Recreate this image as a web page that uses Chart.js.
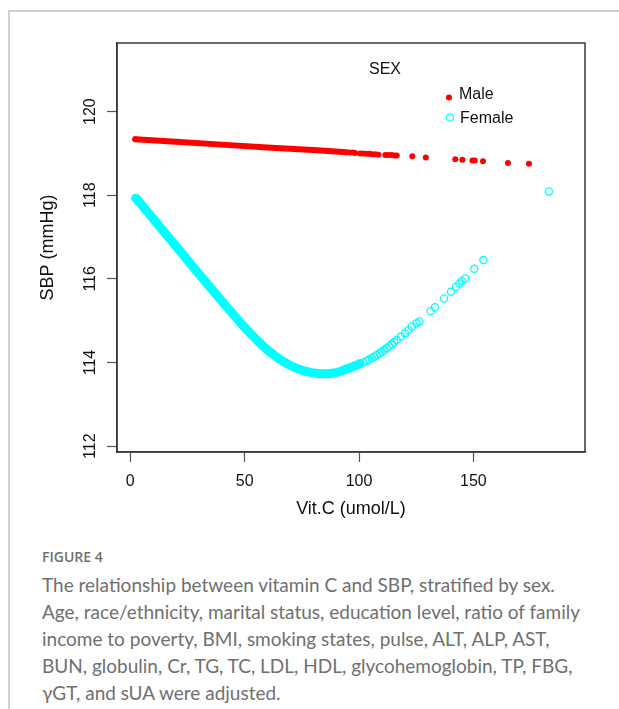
<!DOCTYPE html>
<html lang="en">
<head>
  <meta charset="UTF-8" />
  <title>Vitamin C and SBP by sex</title>
  <style>
    body, html {
      margin: 0;
      padding: 0;
      background: #fff;
      width: 619px;
      height: 709px;
      overflow: hidden;
    }
    .card {
      position: absolute;
      left: 8px;
      top: 10px;
      width: 640px;
      height: 720px;
      border-left: 2px solid #d2d2d2;
      border-top: 2px solid #d2d2d2;
    }
    #chart {
      position: absolute;
      left: 0;
      top: 0;
    }
    .fig {
      position: absolute;
      left: 42px;
      top: 547px;
      font-family: 'Open Sans', sans-serif;
      font-size: 14px;
      font-weight: 600;
      color: #707070;
    }
    .caption {
      position: absolute;
      left: 42px;
      top: 571px;
      font-family: 'Lato', sans-serif;
      font-size: 19px;
      line-height: 27px;
      color: #707070;
      white-space: nowrap;
    }
  </style>
</head>
<body>

<div class="card"></div>
<canvas id="chart" width="619" height="540"></canvas>

<div class="fig">FIGURE 4</div>
<div class="caption">
  The relationship between vitamin C and SBP, stratified by sex.<br />
  Age, race/ethnicity, marital status, education level, ratio of family<br />
  income to poverty, BMI, smoking states, pulse, ALT, ALP, AST,<br />
  BUN, globulin, Cr, TG, TC, LDL, HDL, glycohemoglobin, TP, FBG,<br />
  &gamma;GT, and sUA were adjusted.
</div>

<script src="https://cdn.jsdelivr.net/npm/chart.js"></script>
<script>
  // axis ticks
  const xTicks = [0, 50, 100, 150];
  const yTicks = [112, 114, 116, 118, 120];

  // Male: dense run (drawn as a band) then the separate points
  const maleBandX = [2.2, 20, 40, 60, 80, 94.6];
  const maleBandY = [119.34, 119.28, 119.21, 119.14, 119.08, 119.03];
  const maleX = [2.2, 96.1, 97.5, 98.3, 100.5, 101.8, 103.2, 104.5, 105.8, 107.2, 108.5,
                 111.5, 112.8, 114.3, 115.5, 116.5, 123.3, 129.2, 142.1, 145.2, 149.6,
                 150.6, 154.2, 165.1, 174.3];
  const maleY = [119.34, 119.02, 119.02, 119.01, 119.0, 119.0, 118.99, 118.99, 118.98, 118.98, 118.97,
                 118.96, 118.96, 118.96, 118.95, 118.95, 118.93, 118.9, 118.86, 118.85, 118.83,
                 118.83, 118.81, 118.77, 118.75];

  // Female: dense run (drawn as a band) then the separate circles
  const femaleBandX = [2.5, 10, 20, 30, 40, 50, 60, 70, 80, 85, 90, 100];
  const femaleBandY = [117.93, 117.44, 116.78, 116.12, 115.47, 114.84, 114.3, 113.93,
                       113.75, 113.73, 113.76, 113.96];
  const femaleX = [2.2, 100.5, 101.8, 103.4, 104.5, 105.5, 106.6, 107.8, 109, 110, 111, 112.1,
                   113.2, 114.3, 115.4, 116.5, 118.3, 120.1, 121.6, 123.1, 125.2, 126.4,
                   131.3, 133.2, 137.2, 140.2, 142.4, 143.9, 145.0, 146.4, 150.4, 154.4, 183.0];
  const femaleY = [117.93, 113.98, 114.0, 114.04, 114.07, 114.11, 114.14, 114.18, 114.22, 114.26,
                   114.3, 114.34, 114.39, 114.44, 114.49, 114.54, 114.62, 114.7, 114.78, 114.86,
                   114.94, 114.98, 115.23, 115.32, 115.53, 115.69, 115.81, 115.89, 115.95,
                   116.01, 116.24, 116.45, 118.09];

  const RED = '#ff0000';
  const CYAN = '#00ffff';
  const FONT = "'Liberation Sans', Arial, sans-serif";

  function pts(xs, ys) {
    return xs.map((x, i) => ({ x: x, y: ys[i] }));
  }

  // box round the plot region, like R's box()
  const boxPlugin = {
    id: 'box',
    afterDatasetsDraw(chart) {
      const a = chart.chartArea;
      const ctx = chart.ctx;
      ctx.save();
      ctx.strokeStyle = '#3a3a3a';
      ctx.lineWidth = 1.5;
      ctx.strokeRect(a.left, a.top, a.right - a.left, a.bottom - a.top);
      ctx.restore();
    }
  };

  // legend inside the plot, "SEX" title with Male / Female
  const legendPlugin = {
    id: 'sexLegend',
    afterDraw(chart) {
      const ctx = chart.ctx;
      ctx.save();
      ctx.font = '16px ' + FONT;
      ctx.fillStyle = '#111';
      ctx.textBaseline = 'middle';
      ctx.textAlign = 'center';
      ctx.fillText('SEX', 385, 70);
      ctx.textAlign = 'left';
      ctx.fillText('Male', 459, 95);
      ctx.fillText('Female', 460, 119);
      ctx.fillStyle = RED;
      ctx.beginPath();
      ctx.arc(449, 97.5, 3, 0, Math.PI * 2);
      ctx.fill();
      ctx.strokeStyle = CYAN;
      ctx.lineWidth = 1.2;
      ctx.beginPath();
      ctx.arc(450, 117.5, 3.5, 0, Math.PI * 2);
      ctx.stroke();
      ctx.restore();
    }
  };

  new Chart(document.getElementById('chart'), {
    type: 'scatter',
    data: {
      datasets: [
        {
          label: 'Female band',
          data: pts(femaleBandX, femaleBandY),
          showLine: true,
          borderColor: CYAN,
          borderWidth: 9,
          borderCapStyle: 'round',
          cubicInterpolationMode: 'monotone',
          pointRadius: 0
        },
        {
          label: 'Female',
          data: pts(femaleX, femaleY),
          pointRadius: 3.6,
          borderColor: CYAN,
          borderWidth: 1.3,
          backgroundColor: 'rgba(0,0,0,0)'
        },
        {
          label: 'Male band',
          data: pts(maleBandX, maleBandY),
          showLine: true,
          borderColor: RED,
          borderWidth: 6,
          borderCapStyle: 'round',
          pointRadius: 0
        },
        {
          label: 'Male',
          data: pts(maleX, maleY),
          pointRadius: 3,
          borderWidth: 0,
          backgroundColor: RED
        }
      ]
    },
    options: {
      responsive: false,
      animation: false,
      layout: { padding: { top: 43, right: 34, left: 0, bottom: 0 } },
      plugins: {
        legend: { display: false },
        tooltip: { enabled: false }
      },
      scales: {
        x: {
          type: 'linear',
          min: -5.8,
          max: 198.8,
          afterFit(scale) { scale.height = 88; },
          afterBuildTicks(scale) { scale.ticks = xTicks.map(v => ({ value: v })); },
          grid: { drawOnChartArea: false, tickLength: 10, color: '#555', tickWidth: 1.2 },
          border: { color: '#3a3a3a', width: 1.5 },
          ticks: { color: '#111', font: { family: FONT, size: 16 }, padding: 10, maxRotation: 0, autoSkip: false },
          title: { display: true, text: 'Vit.C (umol/L)', color: '#111', font: { family: FONT, size: 18 }, padding: { top: 0, bottom: 20 } }
        },
        y: {
          type: 'linear',
          min: 111.86,
          max: 121.64,
          afterFit(scale) { scale.width = 117; },
          afterBuildTicks(scale) { scale.ticks = yTicks.map(v => ({ value: v })); },
          grid: { drawOnChartArea: false, tickLength: 10, color: '#555', tickWidth: 1.2 },
          border: { color: '#3a3a3a', width: 1.5 },
          ticks: { color: '#111', font: { family: FONT, size: 16 }, padding: 3, minRotation: 90, maxRotation: 90, crossAlign: 'center', autoSkip: false },
          title: { display: true, text: 'SBP (mmHg)', color: '#111', font: { family: FONT, size: 18 }, padding: { top: 37, bottom: 0 } }
        }
      }
    },
    plugins: [boxPlugin, legendPlugin]
  });
</script>
</body>
</html>
